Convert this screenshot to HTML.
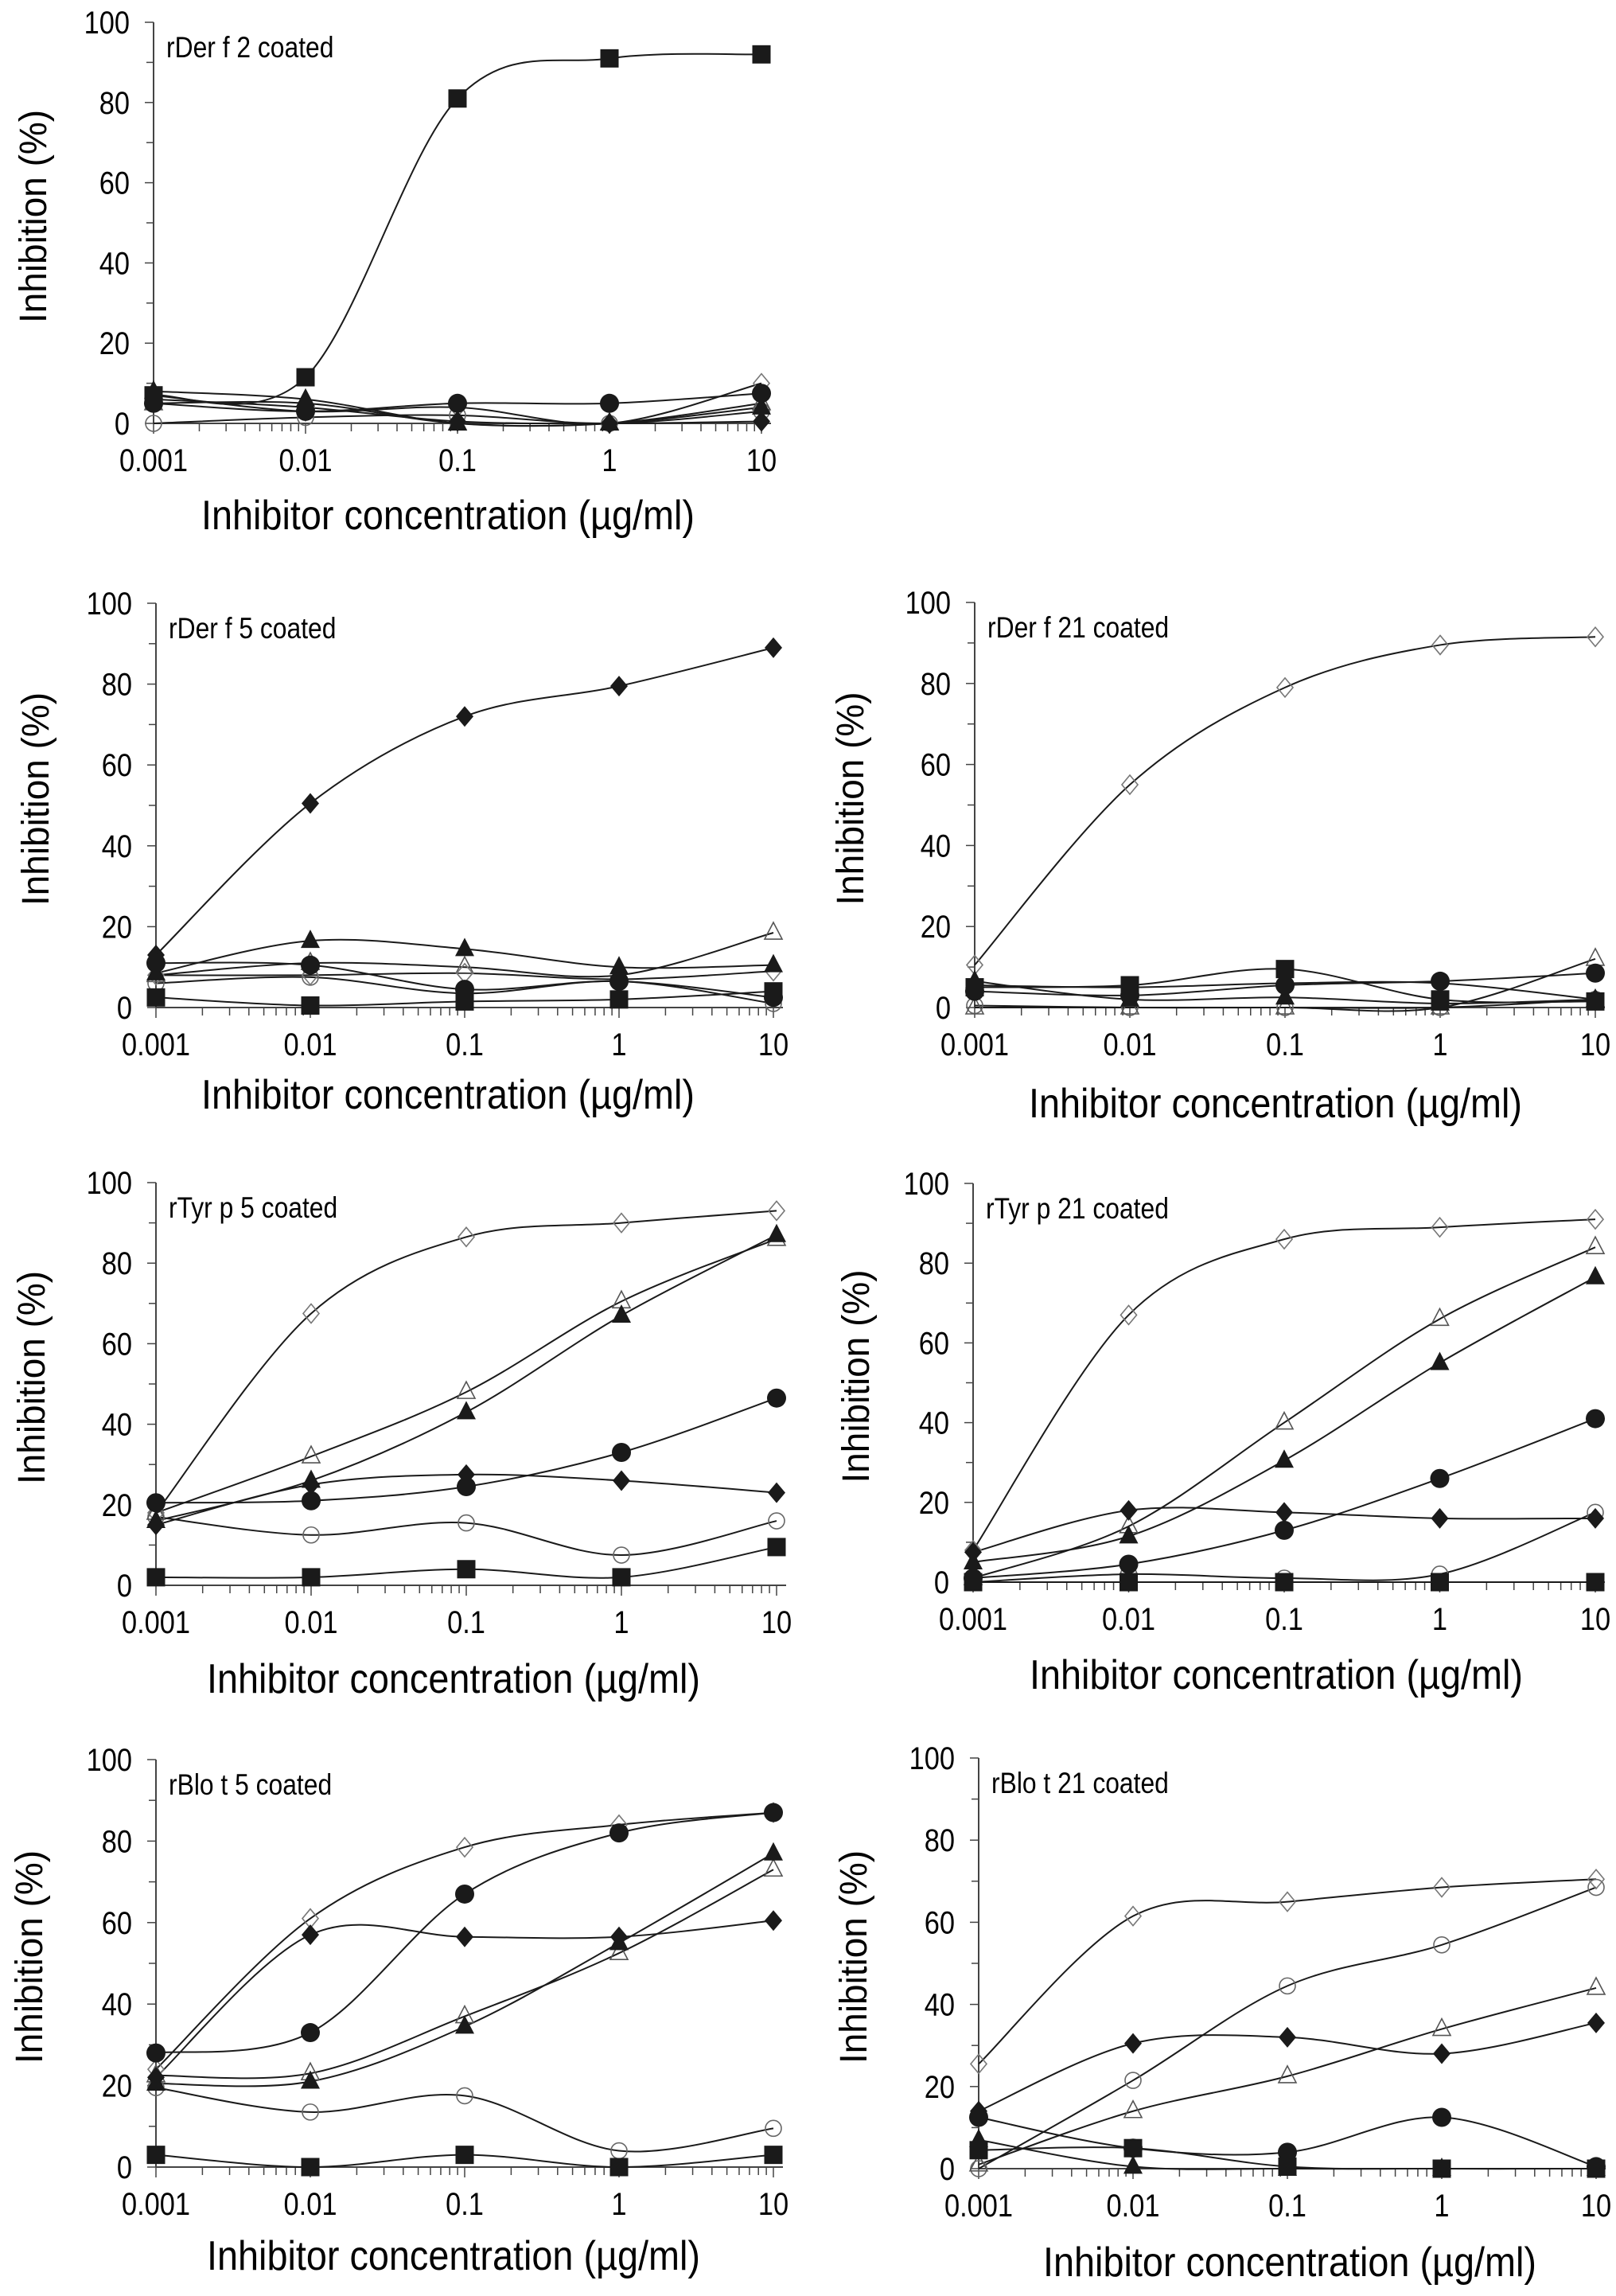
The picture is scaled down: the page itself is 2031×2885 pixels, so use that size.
<!DOCTYPE html>
<html><head><meta charset="utf-8"><style>
html,body{margin:0;padding:0;background:#fff}
svg{display:block}
text{font-family:"Liberation Sans",Arial,sans-serif;fill:#000}
</style></head><body>
<svg id="fig" xmlns="http://www.w3.org/2000/svg" width="2031" height="2885" viewBox="0 0 2031 2885"></svg>
<script>
// ---- data ----
const concentrations = [0.001, 0.01, 0.1, 1, 10];
const xTickLabels = ["0.001", "0.01", "0.1", "1", "10"];
const yTickLabels = [0, 20, 40, 60, 80, 100];
const panelTitles = ["rDer f 2 coated","rDer f 5 coated","rDer f 21 coated","rTyr p 5 coated","rTyr p 21 coated","rBlo t 5 coated","rBlo t 21 coated"];
// each array: one row per panel (A..G), values per concentration
const filledSquare = [[7,11.5,81,91,92],[2.5,0.5,1.5,2,4],[5,5.5,9.5,2,1.5],[2,2,4,2,9.5],[0,0,0,0,0],[3,0,3,0,3],[4.5,5,0.5,0,0]];
const filledDiamond = [[6,4,0.5,0,0.5],[13,50.5,72,79.5,89],[5.5,5,6,6,2],[15,25,27.5,26,23],[7.5,18,17.5,16,16],[22,57,56.5,56.5,60.5],[14,30.5,32,28,35.5]];
const filledCircle = [[5,3,5,5,7.5],[11,10.5,4.5,6.5,2.5],[4,3,5.5,6.5,8.5],[20.5,21,24.5,33,46.5],[1,4.5,13,26,41],[28,33,67,82,87],[12.5,5,4,12.5,0.5]];
const filledTriangle = [[8,6,0,0,4],[8.5,16.5,14.5,10,10.5],[6.5,2,2.5,1,2],[16,26,43,67,87],[5,11.5,30.5,55,76.5],[20.5,21,34.5,55,77],[7,0.5,0,0,0]];
const openDiamond = [[7,3,4,0,10],[8,8,8.5,7,9],[10.5,55,79,89.5,91.5],[18,67.5,86.5,90,93],[8,67,86,89,91],[24,61,78.5,84,87],[25.5,61.5,65,68.5,70.5]];
const openTriangle = [[5,5,0,0,5],[8,11,10,8,18.5],[0,0,0,0,12],[18,32,48,70.5,86],[1,14,40,66,84],[22.5,23,37,52.5,73],[1,14,22.5,34,44]];
const openCircle = [[0,1.5,2,0,3],[6,7.5,3.5,6.5,1],[0.5,0,0,0,2],[17,12.5,15.5,7.5,16],[0,2,1,2,17.5],[19.5,13.5,17.5,4,9.5],[0,21.5,44.5,54.5,68.5]];

// ---- layout (geometry, not data) ----
const layout = [
 {x0:193,dec:191,y0:532,y100:28,yt:40,xt:563,xb:665},
 {x0:196,dec:194,y0:1266,y100:758,yt:43,xt:563,xb:1393},
 {x0:1225,dec:195,y0:1266,y100:757,yt:1067,xt:1603,xb:1404},
 {x0:196,dec:195,y0:1992,y100:1486,yt:38,xt:570,xb:2127},
 {x0:1223,dec:195.5,y0:1988,y100:1487,yt:1074,xt:1604,xb:2122},
 {x0:196,dec:194,y0:2723,y100:2211,yt:35,xt:570,xb:2852},
 {x0:1230,dec:194,y0:2725,y100:2209,yt:1071,xt:1621,xb:2860}
];
const NS="http://www.w3.org/2000/svg";
const svg=document.getElementById('fig');
function mk(tag,attrs,parent){const e=document.createElementNS(NS,tag);for(const k in attrs)e.setAttribute(k,attrs[k]);(parent||svg).appendChild(e);return e;}

function smoothPath(pts){
  let d=`M${pts[0][0]},${pts[0][1]}`;
  for(let i=0;i<pts.length-1;i++){
    const p0=pts[Math.max(0,i-1)],p1=pts[i],p2=pts[i+1],p3=pts[Math.min(pts.length-1,i+2)];
    const c1=[p1[0]+(p2[0]-p0[0])/6,p1[1]+(p2[1]-p0[1])/6];
    const c2=[p2[0]-(p3[0]-p1[0])/6,p2[1]-(p3[1]-p1[1])/6];
    d+=` C${c1[0]},${c1[1]} ${c2[0]},${c2[1]} ${p2[0]},${p2[1]}`;
  }
  return d;
}
function marker(g,type,x,y){
  let e;const s=11.5;
  if(type==='sq'){e=mk('rect',{x:x-s,y:y-s,width:2*s,height:2*s,fill:'#1a1a1a'},g);}
  else if(type==='fd'){e=mk('polygon',{points:`${x},${y-13} ${x+11},${y} ${x},${y+13} ${x-11},${y}`,fill:'#1a1a1a'},g);}
  else if(type==='fc'){e=mk('circle',{cx:x,cy:y,r:12,fill:'#1a1a1a'},g);}
  else if(type==='ft'){e=mk('polygon',{points:`${x},${y-14} ${x+12},${y+9} ${x-12},${y+9}`,fill:'#1a1a1a'},g);}
  else if(type==='od'){e=mk('polygon',{points:`${x},${y-12} ${x+10},${y} ${x},${y+12} ${x-10},${y}`,fill:'none',stroke:'#777','stroke-width':1.6},g);}
  else if(type==='ot'){e=mk('polygon',{points:`${x},${y-13} ${x+11},${y+8} ${x-11},${y+8}`,fill:'none',stroke:'#555','stroke-width':1.6},g);}
  else {e=mk('circle',{cx:x,cy:y,r:10,fill:'none',stroke:'#666','stroke-width':1.6},g);}
  
  
}
const seriesList=[['oc',openCircle],['ot',openTriangle],['od',openDiamond],['fd',filledDiamond],['ft',filledTriangle],['fc',filledCircle],['sq',filledSquare]];

layout.forEach((L,pi)=>{
  const g=mk('g',{});
  
  
  const xs=c=>L.x0+Math.log10(c/0.001)*L.dec;
  const ys=v=>L.y0-(L.y0-L.y100)*v/100;
  const xEnd=xs(10)+12;
  const ax=mk('line',{x1:L.x0,y1:L.y100,x2:L.x0,y2:L.y0,stroke:'#444','stroke-width':2},g);
  
  const bx=mk('line',{x1:L.x0,y1:L.y0,x2:xEnd,y2:L.y0,stroke:'#444','stroke-width':2},g);
  
  for(let v=0;v<=100;v+=10){
    const major=v%20===0;
    mk('line',{x1:L.x0-(major?11:9),y1:ys(v),x2:L.x0,y2:ys(v),stroke:'#444','stroke-width':1.5},g);
  }
  yTickLabels.forEach(v=>{
    const t=mk('text',{x:0,y:0,'text-anchor':'end','font-size':40,transform:`translate(${L.x0-30},${ys(v)+14}) scale(0.86,1)`},g);t.textContent=v;
    
  });
  for(let d=0;d<4;d++){
    for(let k=1;k<=10;k++){
      const c=concentrations[d]*k; if(k===10&&d<3)continue;
      const xx=xs(c);
      mk('line',{x1:xx,y1:L.y0,x2:xx,y2:L.y0+(k===1||k===10?13:10),stroke:'#444','stroke-width':1.5},g);
    }
  }
  xTickLabels.forEach((lab,i)=>{
    const t=mk('text',{x:0,y:0,'text-anchor':'middle','font-size':40,transform:`translate(${xs(concentrations[i])},${L.y0+60}) scale(0.86,1)`},g);t.textContent=lab;
    
  });
  const pt=mk('text',{x:0,y:0,'font-size':37,transform:`translate(${L.x0+16},${L.y100+44}) scale(0.86,1)`},g);pt.textContent=panelTitles[pi];
  
  const cy=(L.y0+L.y100)/2-8;
  const yt=mk('text',{x:0,y:0,'text-anchor':'middle','font-size':48,textLength:268,lengthAdjust:'spacingAndGlyphs',transform:`translate(${L.yt+18},${cy}) rotate(-90)`},g);
  yt.textContent='Inhibition (%)';
  
  const xt=mk('text',{x:L.xt,y:L.xb,'text-anchor':'middle','font-size':52,textLength:620,lengthAdjust:'spacingAndGlyphs'},g);
  xt.textContent='Inhibitor concentration (\u00b5g/ml)';
  
  seriesList.forEach(([type,arr])=>{
    const vals=arr[pi];
    const pts=vals.map((v,i)=>[xs(concentrations[i]),ys(v)]);
    const p=mk('path',{d:smoothPath(pts),fill:'none',stroke:'#1a1a1a','stroke-width':2},g);
    
    
  });
  seriesList.forEach(([type,arr])=>{
    arr[pi].forEach((v,i)=>marker(g,type,xs(concentrations[i]),ys(v)));
  });
});
</script>
</body></html>
